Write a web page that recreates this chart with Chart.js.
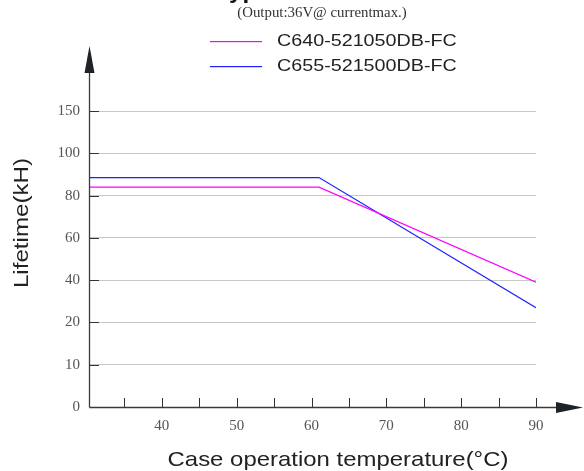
<!DOCTYPE html>
<html>
<head>
<meta charset="utf-8">
<script src="https://cdn.jsdelivr.net/npm/chart.js@4/dist/chart.umd.min.js"></script>
<style>
  html, body { margin: 0; padding: 0; background: #fff; }
  #wrap { width: 584px; height: 471px; position: relative; }
</style>
</head>
<body>
<div id="wrap"><canvas id="c" width="584" height="471"></canvas></div>
<script>
// ---- data ----
const temperatures = [30, 61, 90];                 // °C
const seriesC640 = [84, 84, 39];                   // kH
const seriesC655 = [88.5, 88.5, 27];               // kH
const seriesNames = ['C640-521050DB-FC', 'C655-521500DB-FC'];
const yTickValues = [0, 10, 20, 40, 60, 80, 100, 150];
const xTickValues = [35, 40, 45, 50, 55, 60, 65, 70, 75, 80, 85, 90];
const xLabeled = [40, 50, 60, 70, 80, 90];
const titleText = 'Typical Lifetime Curve';
const subtitleText = '(Output:36V@ currentmax.)';
const xTitle = 'Case operation temperature(°C)';
const yTitle = 'Lifetime(kH)';

// piecewise (non-uniform) y axis: each tick is equally spaced
function toIdx(v) {
  for (let i = 0; i < yTickValues.length - 1; i++) {
    const a = yTickValues[i], b = yTickValues[i + 1];
    if (v <= b) return i + (v - a) / (b - a);
  }
  return yTickValues.length - 1;
}
const seriesColors = ['#ff00ff', '#1f1fff'];

function stretchedText(ctx, text, x, y, font, sx, align, color) {
  ctx.save();
  ctx.font = font;
  ctx.fillStyle = color;
  ctx.textBaseline = 'middle';
  ctx.translate(x, y);
  ctx.scale(sx, 1);
  ctx.textAlign = align;
  ctx.fillText(text, 0, 0);
  ctx.restore();
}

const decor = {
  id: 'decor',
  afterDraw(chart) {
    const ctx = chart.ctx;
    const xs = chart.scales.x, ys = chart.scales.y;
    const L = chart.chartArea.left, B = chart.chartArea.bottom;
    ctx.save();
    // y tick marks (inside)
    ctx.strokeStyle = '#333';
    ctx.lineWidth = 1;
    yTickValues.forEach((v, i) => {
      if (i === 0) return;
      const py = Math.round(ys.getPixelForValue(i)) + 0.5;
      ctx.beginPath(); ctx.moveTo(L, py); ctx.lineTo(L + 9, py); ctx.stroke();
    });
    // x tick marks (inside, upward)
    xTickValues.forEach(v => {
      const px = Math.round(xs.getPixelForValue(v)) + 0.5;
      ctx.beginPath(); ctx.moveTo(px, B); ctx.lineTo(px, B - 9); ctx.stroke();
    });
    // axes with arrows
    ctx.strokeStyle = '#3a3a3a';
    ctx.fillStyle = '#1e2328';
    ctx.lineWidth = 1.3;
    ctx.beginPath(); ctx.moveTo(L - 0.5, B + 0.5); ctx.lineTo(556, B + 0.5); ctx.stroke();
    ctx.beginPath(); ctx.moveTo(L - 0.5, B + 0.5); ctx.lineTo(L - 0.5, 72); ctx.stroke();
    ctx.beginPath(); ctx.moveTo(556, B - 5); ctx.lineTo(583, B + 0.5); ctx.lineTo(556, B + 6); ctx.closePath(); ctx.fill();
    ctx.beginPath(); ctx.moveTo(L - 5.5, 73); ctx.lineTo(L - 0.5, 46); ctx.lineTo(L + 4.5, 73); ctx.closePath(); ctx.fill();
    ctx.restore();

    // titles
    stretchedText(ctx, titleText, 216, -8, 'bold 22px "Liberation Sans", Arial, sans-serif', 1.1, 'left', '#111');
    stretchedText(ctx, subtitleText, 322, 13, '14px "Liberation Serif", serif', 1.06, 'center', '#333');
    stretchedText(ctx, xTitle, 338, 460, '21px "Liberation Sans", Arial, sans-serif', 1.14, 'center', '#222');
    ctx.save();
    ctx.translate(22, 223);
    ctx.rotate(-Math.PI / 2);
    stretchedText(ctx, yTitle, 0, 0, '21px "Liberation Sans", Arial, sans-serif', 1.15, 'center', '#222');
    ctx.restore();

    // legend
    const legY = [41, 66];
    seriesNames.forEach((n, i) => {
      ctx.save();
      ctx.globalAlpha = 1;
      ctx.fillStyle = seriesColors[i];
      ctx.fillRect(210, legY[i], 52, 1.2);
      ctx.restore();
      stretchedText(ctx, n, 277, legY[i], '17px "Liberation Sans", Arial, sans-serif', 1.16, 'left', '#222');
    });
  }
};

new Chart(document.getElementById('c'), {
  type: 'line',
  data: {
    datasets: [
      { label: seriesNames[0], data: temperatures.map((t, i) => ({ x: t, y: toIdx(seriesC640[i]) })),
        borderColor: seriesColors[0], borderWidth: 1.2, pointRadius: 0, tension: 0, fill: false },
      { label: seriesNames[1], data: temperatures.map((t, i) => ({ x: t, y: toIdx(seriesC655[i]) })),
        borderColor: seriesColors[1], borderWidth: 1.2, pointRadius: 0, tension: 0, fill: false }
    ]
  },
  options: {
    responsive: false,
    animation: false,
    devicePixelRatio: 1,
    layout: { padding: { left: 0, top: 111, right: 48, bottom: 0 } },
    plugins: { legend: { display: false }, tooltip: { enabled: false }, title: { display: false } },
    scales: {
      x: {
        type: 'linear', min: 30.4, max: 90,
        afterBuildTicks: s => { s.ticks = xTickValues.map(v => ({ value: v })); },
        afterFit: s => { s.height = 64; },
        grid: { display: false, drawTicks: false },
        border: { display: false },
        ticks: {
          padding: 10, maxRotation: 0, autoSkip: false,
          color: '#555', font: { family: '"Liberation Serif", serif', size: 15 },
          callback: v => xLabeled.includes(v) ? String(v) : ''
        }
      },
      y: {
        type: 'linear', min: 0, max: yTickValues.length - 1,
        afterBuildTicks: s => { s.ticks = yTickValues.map((v, i) => ({ value: i })); },
        afterFit: s => { s.width = 90; },
        grid: { color: c => c.index === 0 ? 'rgba(0,0,0,0)' : '#c8c8c8', drawTicks: false, lineWidth: 1 },
        border: { display: false },
        ticks: {
          padding: 10, autoSkip: false,
          color: '#555', font: { family: '"Liberation Serif", serif', size: 15 },
          callback: (v, i) => String(yTickValues[i])
        }
      }
    }
  },
  plugins: [decor]
});
</script>
</body>
</html>
